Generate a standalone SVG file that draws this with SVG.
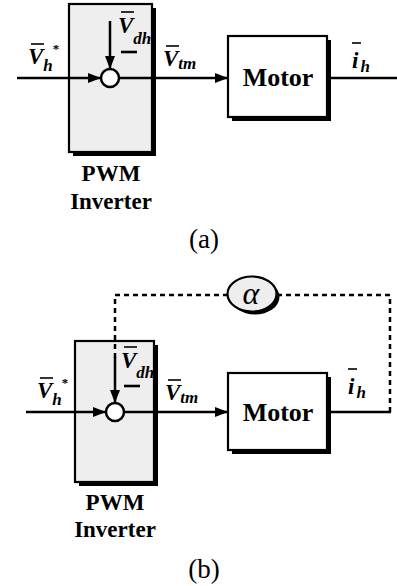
<svg xmlns="http://www.w3.org/2000/svg" width="397" height="586" viewBox="0 0 397 586">
<defs>
<marker id="ah" markerUnits="userSpaceOnUse" markerWidth="13" markerHeight="10" refX="13" refY="5" orient="auto">
<path d="M0,0 L13,5 L0,10 z" fill="#000"/>
</marker>
<style>
.blk{stroke:#000;stroke-width:2.2;}
.inv{fill:#eeeeee;}
.mot{fill:#fff;}
.sh{fill:#000;}
.ln{stroke:#000;stroke-width:2.5;fill:none;}
.dash{stroke:#000;stroke-width:2.5;fill:none;stroke-dasharray:5 4;}
.bar{stroke:#000;stroke-width:1.6;}
.minus{stroke:#000;stroke-width:2.6;}
text{font-family:"Liberation Serif","Times New Roman",Tinos,"DejaVu Serif",serif;fill:#000;}
.var{font-weight:bold;font-style:italic;font-size:23px;}
.sub{font-size:17px;}
.star{font-size:13px;font-style:normal;}
.lbl{font-weight:bold;font-size:23px;text-anchor:middle;}
.mtxt{font-weight:bold;font-size:26px;text-anchor:middle;}
.cap{font-size:27px;text-anchor:middle;}
.alpha{font-style:italic;font-size:32px;text-anchor:middle;}
</style>
</defs>

<!-- (a) -->
<g id="inverter-a">
<rect class="sh" x="73" y="8" width="83" height="148"/>
<rect class="blk inv" x="69" y="4" width="83" height="148"/>
<text class="lbl" x="111" y="181">PWM</text>
<text class="lbl" x="111" y="209">Inverter</text>
</g>
<g id="motor-a">
<rect class="sh" x="232" y="40" width="99" height="81"/>
<rect class="blk mot" x="228" y="36" width="99" height="81"/>
<text class="mtxt" x="278" y="86">Motor</text>
</g>

<!-- (b) -->
<g id="inverter-b">
<rect class="sh" x="79" y="345" width="79" height="141"/>
<rect class="blk inv" x="75" y="341" width="79" height="141"/>
<text class="lbl" x="115" y="510">PWM</text>
<text class="lbl" x="115" y="537">Inverter</text>
</g>
<g id="motor-b">
<rect class="sh" x="232" y="377" width="99" height="77"/>
<rect class="blk mot" x="228" y="373" width="99" height="77"/>
<text class="mtxt" x="278" y="421">Motor</text>
</g>

<g id="connectors">
<!-- (a) -->
<line class="ln" x1="17" y1="78" x2="101" y2="78" marker-end="url(#ah)"/>
<line class="ln" x1="110" y1="21" x2="110" y2="69" marker-end="url(#ah)"/>
<line class="ln" x1="119" y1="78" x2="228" y2="78" marker-end="url(#ah)"/>
<line class="ln" x1="331" y1="78" x2="397" y2="78"/>
<!-- (b) -->
<line class="ln" x1="26" y1="412" x2="106" y2="412" marker-end="url(#ah)"/>
<polyline class="dash" points="115,358 115,295 227.5,295"/>
<polyline class="dash" points="277,295 390,295 390,412"/>
<line class="ln" x1="115" y1="357" x2="115" y2="403" marker-end="url(#ah)"/>
<line class="ln" x1="124" y1="412" x2="228" y2="412" marker-end="url(#ah)"/>
<line class="ln" x1="331" y1="412" x2="391" y2="412"/>
</g>

<g id="sum-a">
<circle cx="110" cy="78" r="9" fill="#fff" stroke="#000" stroke-width="2.5"/>
</g>
<g id="sum-b">
<circle cx="115" cy="412" r="9" fill="#fff" stroke="#000" stroke-width="2.5"/>
</g>
<g id="alpha">
<ellipse cx="255" cy="297" rx="24.5" ry="17.5" fill="#000"/>
<ellipse cx="252" cy="294" rx="24.5" ry="17.5" fill="#eeeeee" stroke="#000" stroke-width="2.2"/>
<text class="alpha" x="251" y="304">α</text>
</g>

<!-- labels (a) -->
<g id="labels-a">
<text class="var" x="28" y="64">V<tspan class="sub" dy="7">h</tspan><tspan class="star" dy="-18">*</tspan></text>
<line class="bar" x1="31" y1="44" x2="44" y2="44"/>

<text class="var" x="118" y="33">V<tspan class="sub" dy="11">dh</tspan></text>
<line class="bar" x1="121" y1="12" x2="134" y2="12"/>
<line class="minus" x1="121" y1="52" x2="137" y2="52"/>

<text class="var" x="163" y="66">V<tspan class="sub" dy="3">tm</tspan></text>
<line class="bar" x1="166" y1="46" x2="179" y2="46"/>

<text class="var" x="352" y="68">i<tspan class="sub" dx="2" dy="4">h</tspan></text>
<line class="bar" x1="352" y1="43" x2="361" y2="43"/>

<text class="cap" x="204" y="248">(a)</text>
</g>

<!-- labels (b) -->
<g id="labels-b">
<text class="var" x="37" y="398">V<tspan class="sub" dy="7">h</tspan><tspan class="star" dy="-18">*</tspan></text>
<line class="bar" x1="40" y1="378" x2="53" y2="378"/>

<text class="var" x="121" y="368">V<tspan class="sub" dy="10">dh</tspan></text>
<line class="bar" x1="124" y1="347" x2="137" y2="347"/>
<line class="minus" x1="124" y1="386" x2="140" y2="386"/>

<text class="var" x="165" y="400">V<tspan class="sub" dy="3">tm</tspan></text>
<line class="bar" x1="168" y1="380" x2="181" y2="380"/>

<text class="var" x="348" y="394">i<tspan class="sub" dx="2" dy="4">h</tspan></text>
<line class="bar" x1="348" y1="369" x2="357" y2="369"/>

<text class="cap" x="204" y="578">(b)</text>
</g>
</svg>
